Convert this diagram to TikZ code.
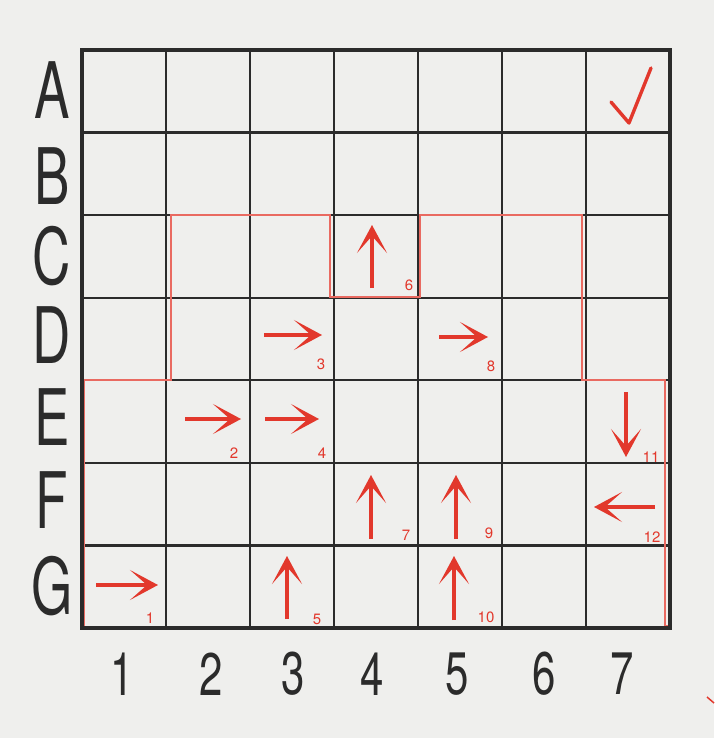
\documentclass[tikz,border=0pt]{standalone}
\usepackage{fontspec}
\setmainfont{TeX Gyre Heros}
\usetikzlibrary{arrows.meta}
\definecolor{paper}{HTML}{EFEFED}
\definecolor{ink}{HTML}{2B2B2B}
\definecolor{pen}{HTML}{E2382C}
\tikzset{
  gridline/.style={draw=ink, line width=2.4pt},
  border/.style={draw=ink, line width=4.5pt, line join=miter},
  region/.style={draw=pen!75, line width=2.8pt, line join=miter},
  move/.style={draw=pen, line width=3.2pt, -{Stealth[length=28pt,width=30pt,inset=17pt]}},
  num/.style={text=pen, font=\fontsize{15}{15}\selectfont, inner sep=0pt},
  rowlab/.style={text=ink, font=\fontsize{78}{78}\selectfont, xscale=0.68, inner sep=0pt},
  collab/.style={text=ink, font=\fontsize{60}{60}\selectfont, xscale=0.7, inner sep=0pt},
}
\begin{document}
\begin{tikzpicture}[x=1pt,y=-1pt]
\fill[paper] (0,0) rectangle (714,738);
\useasboundingbox (0,0) rectangle (714,738);
% inner grid lines
\foreach \i in {1,...,6} {
  \draw[gridline] ({82+84*\i},50) -- ({82+84*\i},628);
  \draw[gridline] (82,{50+82.57*\i}) -- (670,{50+82.57*\i});
}
% red region outline
\draw[region] (670,626) -- (665,626) -- (665,380) -- (582,380) -- (582,215) -- (420,215)
  -- (420,297) -- (330,297) -- (330,215) -- (171,215) -- (171,380) -- (84,380) -- (84,628);
% outer border
\draw[border] (82,50) rectangle (670,628);
% row labels
\node[rowlab] (rA) at (52,90) {A};
\node[rowlab] (rB) at (52,176) {B};
\node[rowlab] (rC) at (52,256) {C};
\node[rowlab] (rD) at (52,335) {D};
\node[rowlab] (rE) at (52,417) {E};
\node[rowlab] (rF) at (52,500) {F};
\node[rowlab] (rG) at (52,586) {G};
% column labels
\node[collab] (c1) at (122,674) {1};
\node[collab] (c2) at (211,674) {2};
\node[collab] (c3) at (293,674) {3};
\node[collab] (c4) at (372,674) {4};
\node[collab] (c5) at (457,674) {5};
\node[collab] (c6) at (544,674) {6};
\node[collab] (c7) at (622,674) {7};
% arrows
\coordinate (a1s) at (96,585);  \coordinate (a1e) at (158,585);
\coordinate (a2s) at (185,419); \coordinate (a2e) at (241,419);
\coordinate (a3s) at (264,335); \coordinate (a3e) at (322,335);
\coordinate (a4s) at (265,419); \coordinate (a4e) at (319,419);
\coordinate (a5s) at (287,619); \coordinate (a5e) at (287,556);
\coordinate (a6s) at (372,288); \coordinate (a6e) at (372,225);
\coordinate (a7s) at (371,539); \coordinate (a7e) at (371,475);
\coordinate (a8s) at (439,337); \coordinate (a8e) at (488,337);
\coordinate (a9s) at (456,539); \coordinate (a9e) at (456,475);
\coordinate (a10s) at (454,620); \coordinate (a10e) at (454,556);
\coordinate (a11s) at (626,392); \coordinate (a11e) at (626,457);
\coordinate (a12s) at (655,507); \coordinate (a12e) at (594,507);
\foreach \k in {1,...,12} { \draw[move] (a\k s) -- (a\k e); }
% step numbers
\node[num] (n1) at (150,618) {1};
\node[num] (n2) at (234,453) {2};
\node[num] (n3) at (321,364) {3};
\node[num] (n4) at (322,453) {4};
\node[num] (n5) at (317,619) {5};
\node[num] (n6) at (409,285) {6};
\node[num] (n7) at (406,535) {7};
\node[num] (n8) at (491,366) {8};
\node[num] (n9) at (489,533) {9};
\node[num] (n10) at (486,617) {10};
\node[num] (n11) at (651,457) {11};
\node[num] (n12) at (652,537) {12};
% check mark
\draw[pen, line width=3.4pt, line cap=round, line join=round] (611,102) -- (629,123) -- (651,68);
% stray mark
\draw[pen, line width=1.5pt] (707,697) -- (714,703);
\end{tikzpicture}
\end{document}
